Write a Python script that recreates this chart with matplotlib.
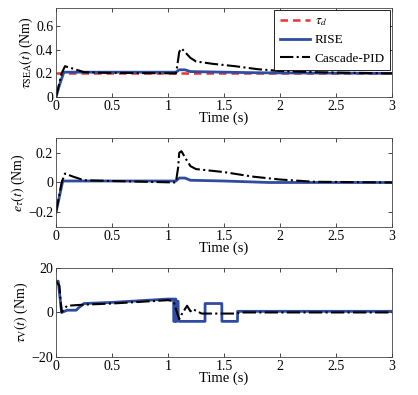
import matplotlib
matplotlib.use("Agg")
import matplotlib.pyplot as plt
import numpy as np

plt.rcParams['font.family'] = ['Liberation Serif', 'DejaVu Serif']
plt.rcParams['mathtext.fontset'] = 'stix'
plt.rcParams['font.size'] = 10

# Panel 1: tau_SEA
td_t = [0.0, 3.0]
td_v = [0.2, 0.2]
rise1_t = [0.0, 0.03, 0.07, 1.07, 1.10, 1.15, 1.20, 1.50, 1.80, 3.0]
rise1_v = [0.0, 0.10, 0.21, 0.21, 0.23, 0.23, 0.215, 0.21, 0.205, 0.20]
pid1_t = [0.0, 0.05, 0.08, 0.15, 0.25, 0.40, 1.07, 1.08, 1.10, 1.12, 1.15, 1.20, 1.25, 1.40,
          1.60, 1.80, 2.00, 2.30, 2.60, 3.0]
pid1_v = [0.0, 0.20, 0.26, 0.24, 0.21, 0.205, 0.20, 0.25, 0.38, 0.41, 0.38, 0.33, 0.30, 0.28,
          0.26, 0.235, 0.22, 0.21, 0.205, 0.20]

# Panel 2: e_tau
rise2_t = [0.0, 0.06, 1.07, 1.10, 1.15, 1.20, 1.50, 1.90, 3.0]
rise2_v = [-0.2, 0.01, 0.01, 0.03, 0.03, 0.015, 0.01, 0.0, 0.0]
pid2_t = [0.0, 0.05, 0.08, 0.15, 0.25, 0.50, 1.07, 1.09, 1.10, 1.12, 1.15, 1.20, 1.25, 1.50,
          1.75, 2.00, 2.30, 3.0]
pid2_v = [-0.2, 0.0, 0.06, 0.04, 0.015, 0.01, 0.0, 0.10, 0.20, 0.21, 0.17, 0.11, 0.09, 0.07,
          0.04, 0.02, 0.005, 0.0]

# Panel 3: tau_V
rise3_t = [0.0, 0.02, 0.05, 0.10, 0.18, 0.20, 0.25, 0.50, 1.00, 1.05, 1.051, 1.06, 1.061,
           1.07, 1.071, 1.08, 1.081, 1.09, 1.091, 1.10, 1.33, 1.331, 1.48, 1.481, 1.62,
           1.621, 3.0]
rise3_v = [14, 14, 0, 1, 1, 2, 4, 4.5, 6, 6, -4, -4, 6, 6, -4, -4, 5, 5, -3, -4, -4, 4,
           4, -4, -4, 0.5, 0.5]
pid3_t = [0.0, 0.03, 0.05, 0.08, 0.10, 0.25, 0.50, 1.00, 1.05, 1.08, 1.10, 1.12, 1.17,
          1.20, 1.22, 1.30, 1.60, 1.65, 3.0]
pid3_v = [14, 12, 0, 2, 3, 3.5, 4, 5.5, 5, 0, -3, -1, 3, 0.5, 1.5, -0.5, -0.5, 0, 0]

blue = '#2f4c9f'
red = '#ee3030'

fig = plt.figure(figsize=(4.18, 3.95), dpi=100)
left, width = 0.134, 0.804
boxes = [(0.754, 0.226), (0.425, 0.226), (0.096, 0.226)]
axes = [fig.add_axes([left, b, width, h]) for b, h in boxes]

ax1, ax2, ax3 = axes
ax1.plot(td_t, td_v, '--', color=red, lw=1.8, label=r'$\tau_d$', dashes=(3, 2))
ax1.plot(rise1_t, rise1_v, '-', color=blue, lw=2.0, label='RISE')
ax1.plot(pid1_t, pid1_v, '-.', color='black', lw=1.5, label='Cascade-PID')
ax1.set_ylim(0, 0.75)
ax1.set_yticks([0, 0.2, 0.4, 0.6])
ax1.set_yticklabels(['0', '0.2', '0.4', '0.6'])
ax1.set_ylabel(r'$\tau_{\rm SEA}(t)$ (Nm)')
leg = ax1.legend(loc='upper right', fancybox=False, edgecolor='black', framealpha=1,
                 handlelength=2.3, handletextpad=0.35, borderaxespad=0.15, borderpad=0.4,
                 labelspacing=0.45, fontsize=9.5)
leg.get_frame().set_linewidth(0.6)

ax2.plot(rise2_t, rise2_v, '-', color=blue, lw=2.0)
ax2.plot(pid2_t, pid2_v, '-.', color='black', lw=1.5)
ax2.set_ylim(-0.3, 0.3)
ax2.set_yticks([-0.2, 0, 0.2])
ax2.set_yticklabels(['\u22120.2', '0', '0.2'])
ax2.set_ylabel(r'$e_\tau(t)$ (Nm)')

ax3.plot(rise3_t, rise3_v, '-', color=blue, lw=2.0)
ax3.plot(pid3_t, pid3_v, '-.', color='black', lw=1.5)
ax3.set_ylim(-20, 20)
ax3.set_yticks([-20, 0, 20])
ax3.set_yticklabels(['\u221220', '0', '20'])
ax3.set_ylabel(r'$\tau_{\rm V}(t)$ (Nm)')

for ax in axes:
    ax.set_xlim(0, 3)
    ax.set_xticks([0, 0.5, 1, 1.5, 2, 2.5, 3])
    ax.set_xticklabels(['0', '0.5', '1', '1.5', '2', '2.5', '3'])
    ax.set_xlabel('Time (s)', labelpad=-1, fontsize=10.5)
    ax.tick_params(direction='in', top=True, right=True, length=3, width=0.5, pad=2,
                   labelsize=10)
    for s in ax.spines.values():
        s.set_linewidth(0.6)
        s.set_color('#444444')
    ax.yaxis.labelpad = 1
    ax.yaxis.label.set_size(10)

fig.savefig('out.png', dpi=100)
